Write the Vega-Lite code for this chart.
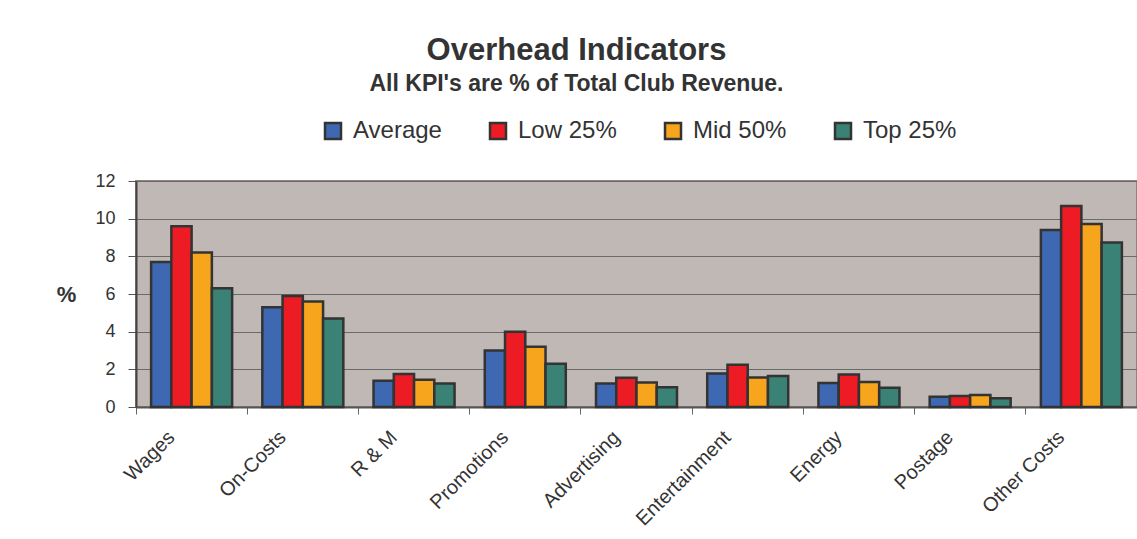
{
  "$schema": "https://vega.github.io/schema/vega-lite/v6.json",
  "autosize": {"type": "none"},
  "width": 1001,
  "height": 226,
  "padding": {"left": 136, "top": 181, "right": 0, "bottom": 132},
  "background": "white",
  "title": {
    "text": "Overhead Indicators",
    "subtitle": "All KPI's are % of Total Club Revenue.",
    "anchor": "middle",
    "frame": "group",
    "dx": -60,
    "font": "Liberation Sans",
    "fontSize": 31,
    "fontWeight": "bold",
    "color": "#333333",
    "subtitleFont": "Liberation Sans",
    "subtitleFontSize": 23,
    "subtitleFontWeight": "bold",
    "subtitleColor": "#333333",
    "subtitlePadding": 6,
    "offset": 22
  },
  "data": {
    "values": [
      {"category": "Wages", "series": "Average", "value": 7.7},
      {"category": "Wages", "series": "Low 25%", "value": 9.6},
      {"category": "Wages", "series": "Mid 50%", "value": 8.2},
      {"category": "Wages", "series": "Top 25%", "value": 6.3},
      {"category": "On-Costs", "series": "Average", "value": 5.3},
      {"category": "On-Costs", "series": "Low 25%", "value": 5.9},
      {"category": "On-Costs", "series": "Mid 50%", "value": 5.6},
      {"category": "On-Costs", "series": "Top 25%", "value": 4.7},
      {"category": "R & M", "series": "Average", "value": 1.4},
      {"category": "R & M", "series": "Low 25%", "value": 1.75},
      {"category": "R & M", "series": "Mid 50%", "value": 1.45},
      {"category": "R & M", "series": "Top 25%", "value": 1.25},
      {"category": "Promotions", "series": "Average", "value": 3.0},
      {"category": "Promotions", "series": "Low 25%", "value": 4.0},
      {"category": "Promotions", "series": "Mid 50%", "value": 3.2},
      {"category": "Promotions", "series": "Top 25%", "value": 2.3},
      {"category": "Advertising", "series": "Average", "value": 1.25},
      {"category": "Advertising", "series": "Low 25%", "value": 1.55},
      {"category": "Advertising", "series": "Mid 50%", "value": 1.3},
      {"category": "Advertising", "series": "Top 25%", "value": 1.05},
      {"category": "Entertainment", "series": "Average", "value": 1.78},
      {"category": "Entertainment", "series": "Low 25%", "value": 2.24},
      {"category": "Entertainment", "series": "Mid 50%", "value": 1.57},
      {"category": "Entertainment", "series": "Top 25%", "value": 1.64},
      {"category": "Energy", "series": "Average", "value": 1.27},
      {"category": "Energy", "series": "Low 25%", "value": 1.73},
      {"category": "Energy", "series": "Mid 50%", "value": 1.33},
      {"category": "Energy", "series": "Top 25%", "value": 1.02},
      {"category": "Postage", "series": "Average", "value": 0.55},
      {"category": "Postage", "series": "Low 25%", "value": 0.58},
      {"category": "Postage", "series": "Mid 50%", "value": 0.64},
      {"category": "Postage", "series": "Top 25%", "value": 0.46},
      {"category": "Other Costs", "series": "Average", "value": 9.4},
      {"category": "Other Costs", "series": "Low 25%", "value": 10.67},
      {"category": "Other Costs", "series": "Mid 50%", "value": 9.72},
      {"category": "Other Costs", "series": "Top 25%", "value": 8.73}
    ]
  },
  "mark": {"type": "bar", "stroke": "#333333", "strokeWidth": 2.5},
  "encoding": {
    "x": {
      "field": "category",
      "type": "nominal",
      "sort": ["Wages", "On-Costs", "R & M", "Promotions", "Advertising", "Entertainment", "Energy", "Postage", "Other Costs"],
      "scale": {"paddingInner": 0, "paddingOuter": 0},
      "axis": {
        "title": null,
        "bandPosition": 0,
        "labelAngle": -45,
        "labelAlign": "right",
        "labelBaseline": "middle",
        "labelOffset": -20,
        "labelPadding": 20,
        "labelFont": "Liberation Sans",
        "labelFontSize": 20,
        "labelColor": "#333333",
        "tickColor": "#666666",
        "tickSize": 7,
        "domainColor": "#555555",
        "domainWidth": 2,
        "grid": false
      }
    },
    "xOffset": {
      "field": "series",
      "sort": ["Average", "Low 25%", "Mid 50%", "Top 25%"],
      "scale": {"paddingInner": 0, "paddingOuter": 0.746}
    },
    "y": {
      "field": "value",
      "type": "quantitative",
      "scale": {"domain": [0, 12], "nice": false},
      "axis": {
        "values": [0, 2, 4, 6, 8, 10, 12],
        "title": "%",
        "titleAngle": 0,
        "titleX": -70,
        "titleY": 113,
        "titleAlign": "center",
        "titleBaseline": "middle",
        "titleFont": "Liberation Sans",
        "titleFontSize": 22,
        "titleFontWeight": "bold",
        "titleColor": "#333333",
        "labelFont": "Liberation Sans",
        "labelFontSize": 18,
        "labelColor": "#333333",
        "labelPadding": 13,
        "tickSize": 8,
        "tickColor": "#555555",
        "domainColor": "#444444",
        "domainWidth": 2,
        "grid": true,
        "gridColor": "#6a6a6a",
        "gridWidth": 1
      }
    },
    "color": {
      "field": "series",
      "type": "nominal",
      "sort": ["Average", "Low 25%", "Mid 50%", "Top 25%"],
      "scale": {
        "domain": ["Average", "Low 25%", "Mid 50%", "Top 25%"],
        "range": ["#3f68b2", "#ed1c24", "#f7a51d", "#3a8275"]
      },
      "legend": {
        "title": null,
        "orient": "none",
        "direction": "horizontal",
        "legendX": 185,
        "legendY": -62,
        "padding": 0,
        "symbolType": "square",
        "symbolSize": 256,
        "symbolStrokeColor": "#333333",
        "symbolStrokeWidth": 2.5,
        "symbolOpacity": 1,
        "labelFont": "Liberation Sans",
        "labelFontSize": 24,
        "labelColor": "#333333",
        "labelOffset": 8,
        "columnPadding": 43
      }
    }
  },
  "config": {
    "view": {"fill": "#c0b8b5", "stroke": "#8f8683", "strokeWidth": 2}
  }
}
